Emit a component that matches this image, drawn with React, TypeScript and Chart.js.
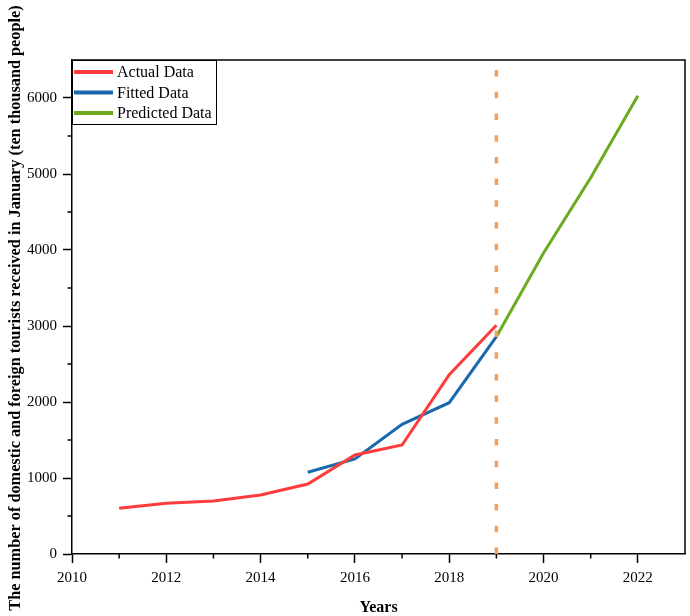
import React, { useEffect, useRef } from "react";
import { Chart, registerables } from "chart.js";

Chart.register(...registerables);

const actualYears = [2011, 2012, 2013, 2014, 2015, 2016, 2017, 2018, 2019];
const actualValues = [601, 667, 697, 776, 921, 1303, 1434, 2360, 3010];
const fittedYears = [2015, 2016, 2017, 2018, 2019];
const fittedValues = [1075, 1250, 1706, 1991, 2860];
const predictedYears = [2019, 2020, 2021, 2022];
const predictedValues = [2860, 3960, 4950, 6030];
const splitYear = 2019;
const xTicks = [2010, 2012, 2014, 2016, 2018, 2020, 2022];
const xMinorTicks = [2011, 2013, 2015, 2017, 2019, 2021];
const yTicks = [0, 1000, 2000, 3000, 4000, 5000, 6000];
const yMinorTicks = [500, 1500, 2500, 3500, 4500, 5500];
const xLabel = "Years";
const yLabel =
  "The number of domestic and foreign tourists received in January (ten thousand people)";
const seriesNames = ["Actual Data", "Fitted Data", "Predicted Data"];

const FONT = "'Liberation Serif', 'Times New Roman', serif";
const COLORS = ["#FF3C3C", "#1A69AC", "#6CAA1E"];

const pts = (xs: number[], ys: number[]) => xs.map((x, i) => ({ x, y: ys[i] }));

const decorPlugin = {
  id: "decor",
  afterDraw(chart: any) {
    const { ctx, chartArea, scales } = chart;
    const xs = scales.x;
    const ys = scales.y;
    ctx.save();
    // frame top & right
    ctx.strokeStyle = "#000";
    ctx.lineWidth = 1.5;
    ctx.beginPath();
    ctx.moveTo(chartArea.left, chartArea.top);
    ctx.lineTo(chartArea.right, chartArea.top);
    ctx.lineTo(chartArea.right, chartArea.bottom);
    ctx.stroke();
    // minor ticks
    ctx.lineWidth = 1.5;
    ctx.beginPath();
    xMinorTicks.forEach((v) => {
      const px = xs.getPixelForValue(v);
      ctx.moveTo(px, chartArea.bottom);
      ctx.lineTo(px, chartArea.bottom + 4.5);
    });
    yMinorTicks.forEach((v) => {
      const py = ys.getPixelForValue(v);
      ctx.moveTo(chartArea.left, py);
      ctx.lineTo(chartArea.left - 4.5, py);
    });
    ctx.stroke();
    // legend
    const lx = chartArea.left;
    const ly = chartArea.top;
    const lw = 144;
    const lh = 64;
    ctx.fillStyle = "#fff";
    ctx.fillRect(lx, ly, lw, lh);
    ctx.strokeStyle = "#000";
    ctx.lineWidth = 1;
    ctx.strokeRect(lx + 0.5, ly + 0.5, lw, lh);
    ctx.font = `16px ${FONT}`;
    ctx.textBaseline = "middle";
    ctx.textAlign = "left";
    seriesNames.forEach((name, i) => {
      const cy = ly + 12 + i * 20.5;
      ctx.strokeStyle = COLORS[i];
      ctx.lineWidth = 4;
      ctx.beginPath();
      ctx.moveTo(lx + 2, cy);
      ctx.lineTo(lx + 41, cy);
      ctx.stroke();
      ctx.fillStyle = "#000";
      ctx.fillText(name, lx + 45, cy + 1);
    });
    // y title
    ctx.translate(16, (chartArea.top + chartArea.bottom) / 2 + 1);
    ctx.rotate(-Math.PI / 2);
    ctx.font = `bold 16.3px ${FONT}`;
    ctx.textAlign = "center";
    ctx.textBaseline = "middle";
    ctx.fillStyle = "#000";
    ctx.fillText(yLabel, 0, 0);
    ctx.restore();
  },
};

export default function App() {
  const ref = useRef<HTMLCanvasElement>(null);
  useEffect(() => {
    document.body.style.margin = "0";
    const chart = new Chart(ref.current!, {
      type: "line",
      data: {
        datasets: [
          {
            label: "split",
            data: [
              { x: splitYear, y: 0 },
              { x: splitYear, y: 6500 },
            ],
            borderColor: "#F5A05E",
            borderWidth: 3.5,
            borderDash: [6.5, 15.2],
            pointRadius: 0,
          },
          {
            label: seriesNames[0],
            data: pts(actualYears, actualValues),
            borderColor: COLORS[0],
            borderWidth: 3,
            pointRadius: 0,
          },
          {
            label: seriesNames[1],
            data: pts(fittedYears, fittedValues),
            borderColor: COLORS[1],
            borderWidth: 3,
            pointRadius: 0,
          },
          {
            label: seriesNames[2],
            data: pts(predictedYears, predictedValues),
            borderColor: COLORS[2],
            borderWidth: 3,
            pointRadius: 0,
          },
        ],
      },
      options: {
        animation: false,
        responsive: false,
        maintainAspectRatio: false,
        layout: { padding: { left: 0, top: 60, right: 5, bottom: 0 } },
        plugins: { legend: { display: false }, tooltip: { enabled: false } },
        scales: {
          x: {
            type: "linear",
            min: 2010,
            max: 2023,
            afterBuildTicks: (s: any) => {
              s.ticks = xTicks.map((v) => ({ value: v }));
            },
            afterFit: (s: any) => {
              s.height = 62;
            },
            border: { display: true, color: "#000", width: 1.5 },
            grid: {
              drawOnChartArea: false,
              drawTicks: true,
              tickLength: 9,
              tickColor: "#000",
              tickWidth: 1.5,
            },
            ticks: {
              color: "#000",
              font: { family: FONT, size: 15 },
              padding: 6,
              maxRotation: 0,
              autoSkip: false,
              callback: (v: any) => String(v),
            },
            title: {
              display: true,
              text: xLabel,
              color: "#000",
              font: { family: FONT, size: 16, weight: "bold" },
              padding: { top: 0, bottom: -1 },
            },
          },
          y: {
            type: "linear",
            min: 0,
            max: 6500,
            afterBuildTicks: (s: any) => {
              s.ticks = yTicks.map((v) => ({ value: v }));
            },
            afterFit: (s: any) => {
              s.width = 72;
            },
            border: { display: true, color: "#000", width: 1.5 },
            grid: {
              drawOnChartArea: false,
              drawTicks: true,
              tickLength: 9,
              tickColor: "#000",
              tickWidth: 1.5,
            },
            ticks: {
              color: "#000",
              font: { family: FONT, size: 15 },
              padding: 6,
              autoSkip: false,
              callback: (v: any) => String(v),
            },
          },
        },
      },
      plugins: [decorPlugin],
    });
    return () => chart.destroy();
  }, []);
  return <canvas ref={ref} width={690} height={616} style={{ display: "block" }} />;
}
